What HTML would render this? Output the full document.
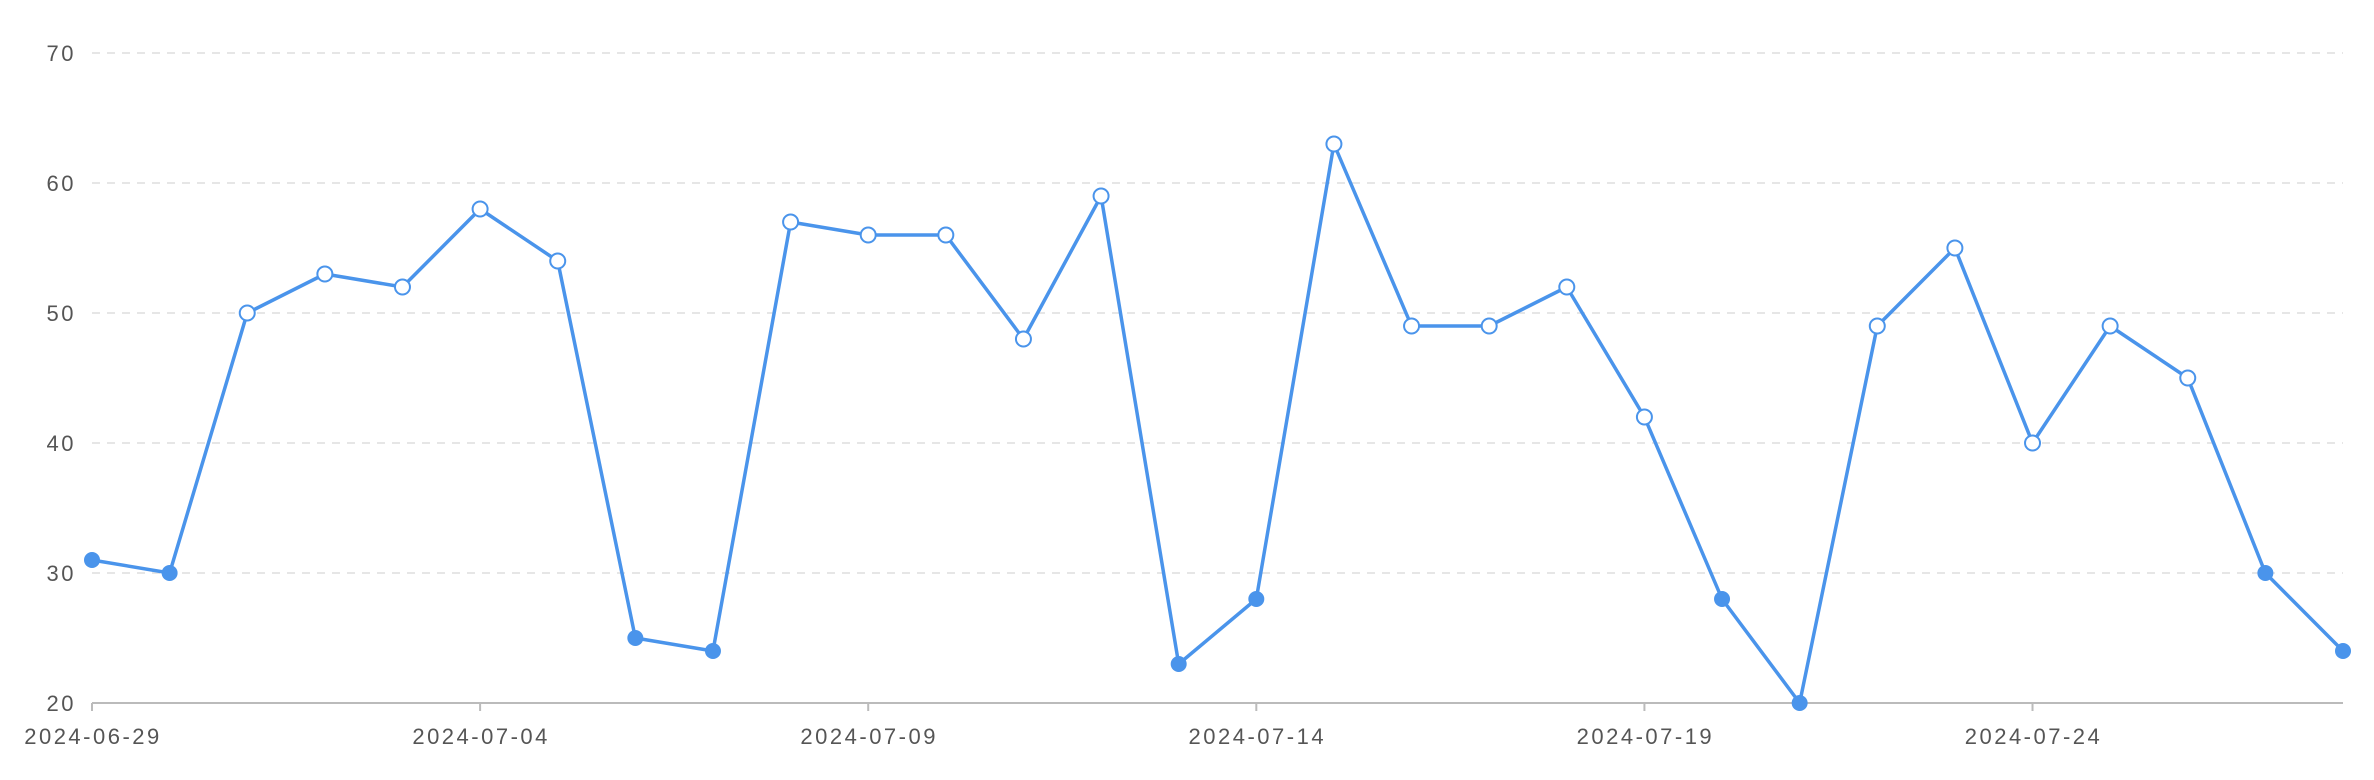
<!DOCTYPE html>
<html><head><meta charset="utf-8"><style>
html,body{margin:0;padding:0;background:#fff;}
svg{display:block;font-family:"Liberation Sans",sans-serif;}
</style></head><body>
<svg id="chart" width="2374" height="780" viewBox="0 0 2374 780"></svg>
<script>
const dates = ["2024-06-29","2024-06-30","2024-07-01","2024-07-02","2024-07-03","2024-07-04","2024-07-05","2024-07-06","2024-07-07","2024-07-08","2024-07-09","2024-07-10","2024-07-11","2024-07-12","2024-07-13","2024-07-14","2024-07-15","2024-07-16","2024-07-17","2024-07-18","2024-07-19","2024-07-20","2024-07-21","2024-07-22","2024-07-23","2024-07-24","2024-07-25","2024-07-26","2024-07-27","2024-07-28"];
const values = [31,30,50,53,52,58,54,25,24,57,56,56,48,59,23,28,63,49,49,52,42,28,20,49,55,40,49,45,30,24];
const yTicks = [20,30,40,50,60,70];
const xTickLabels = ["2024-06-29","2024-07-04","2024-07-09","2024-07-14","2024-07-19","2024-07-24"];
const threshold = 35;

const NS="http://www.w3.org/2000/svg";
const svg=document.getElementById('chart');
const X0=92, X1=2343, Y0=703, Y1=53, yMin=20, yMax=70;
const xs=i=>X0+(X1-X0)*i/(dates.length-1);
const ys=v=>Y0-(v-yMin)/(yMax-yMin)*(Y0-Y1);
function mk(tag,attrs){const e=document.createElementNS(NS,tag);for(const k in attrs)e.setAttribute(k,attrs[k]);svg.appendChild(e);return e;}

yTicks.forEach(t=>{
  const y=ys(t);
  if(t!==yMin){
    const g=mk('line',{x1:X0,x2:X1,y1:y,y2:y,stroke:'#e6e6e6','stroke-width':2,'stroke-dasharray':'8,7'});
    
    
  }
  const tx=mk('text',{x:76,y:y+8,'text-anchor':'end','font-size':22,'letter-spacing':2.5,fill:'#555'});
  tx.textContent=t;
  
  
});
const ax=mk('line',{x1:X0,x2:X1,y1:Y0,y2:Y0,stroke:'#bbb','stroke-width':2});


xTickLabels.forEach(lbl=>{
  const i=dates.indexOf(lbl);const x=xs(i);
  const tk=mk('line',{x1:x,x2:x,y1:Y0,y2:Y0+8,stroke:'#bbb','stroke-width':2});
  
  
  const tx=mk('text',{x:x+1,y:744,'text-anchor':'middle','font-size':22,'letter-spacing':2.5,fill:'#555'});
  tx.textContent=lbl;
  
  
});
const line=mk('polyline',{points:values.map((v,i)=>xs(i)+','+ys(v)).join(' '),fill:'none',stroke:'#4a94eb','stroke-width':3.5,'stroke-linejoin':'round'});


values.forEach((v,i)=>{
  const low=v<threshold;
  const c=mk('circle',{cx:xs(i),cy:ys(v),r:low?8:7.5,fill:low?'#4a94eb':'#fff',stroke:'#4a94eb','stroke-width':low?0:2});
  
  
});
</script>
</body></html>
